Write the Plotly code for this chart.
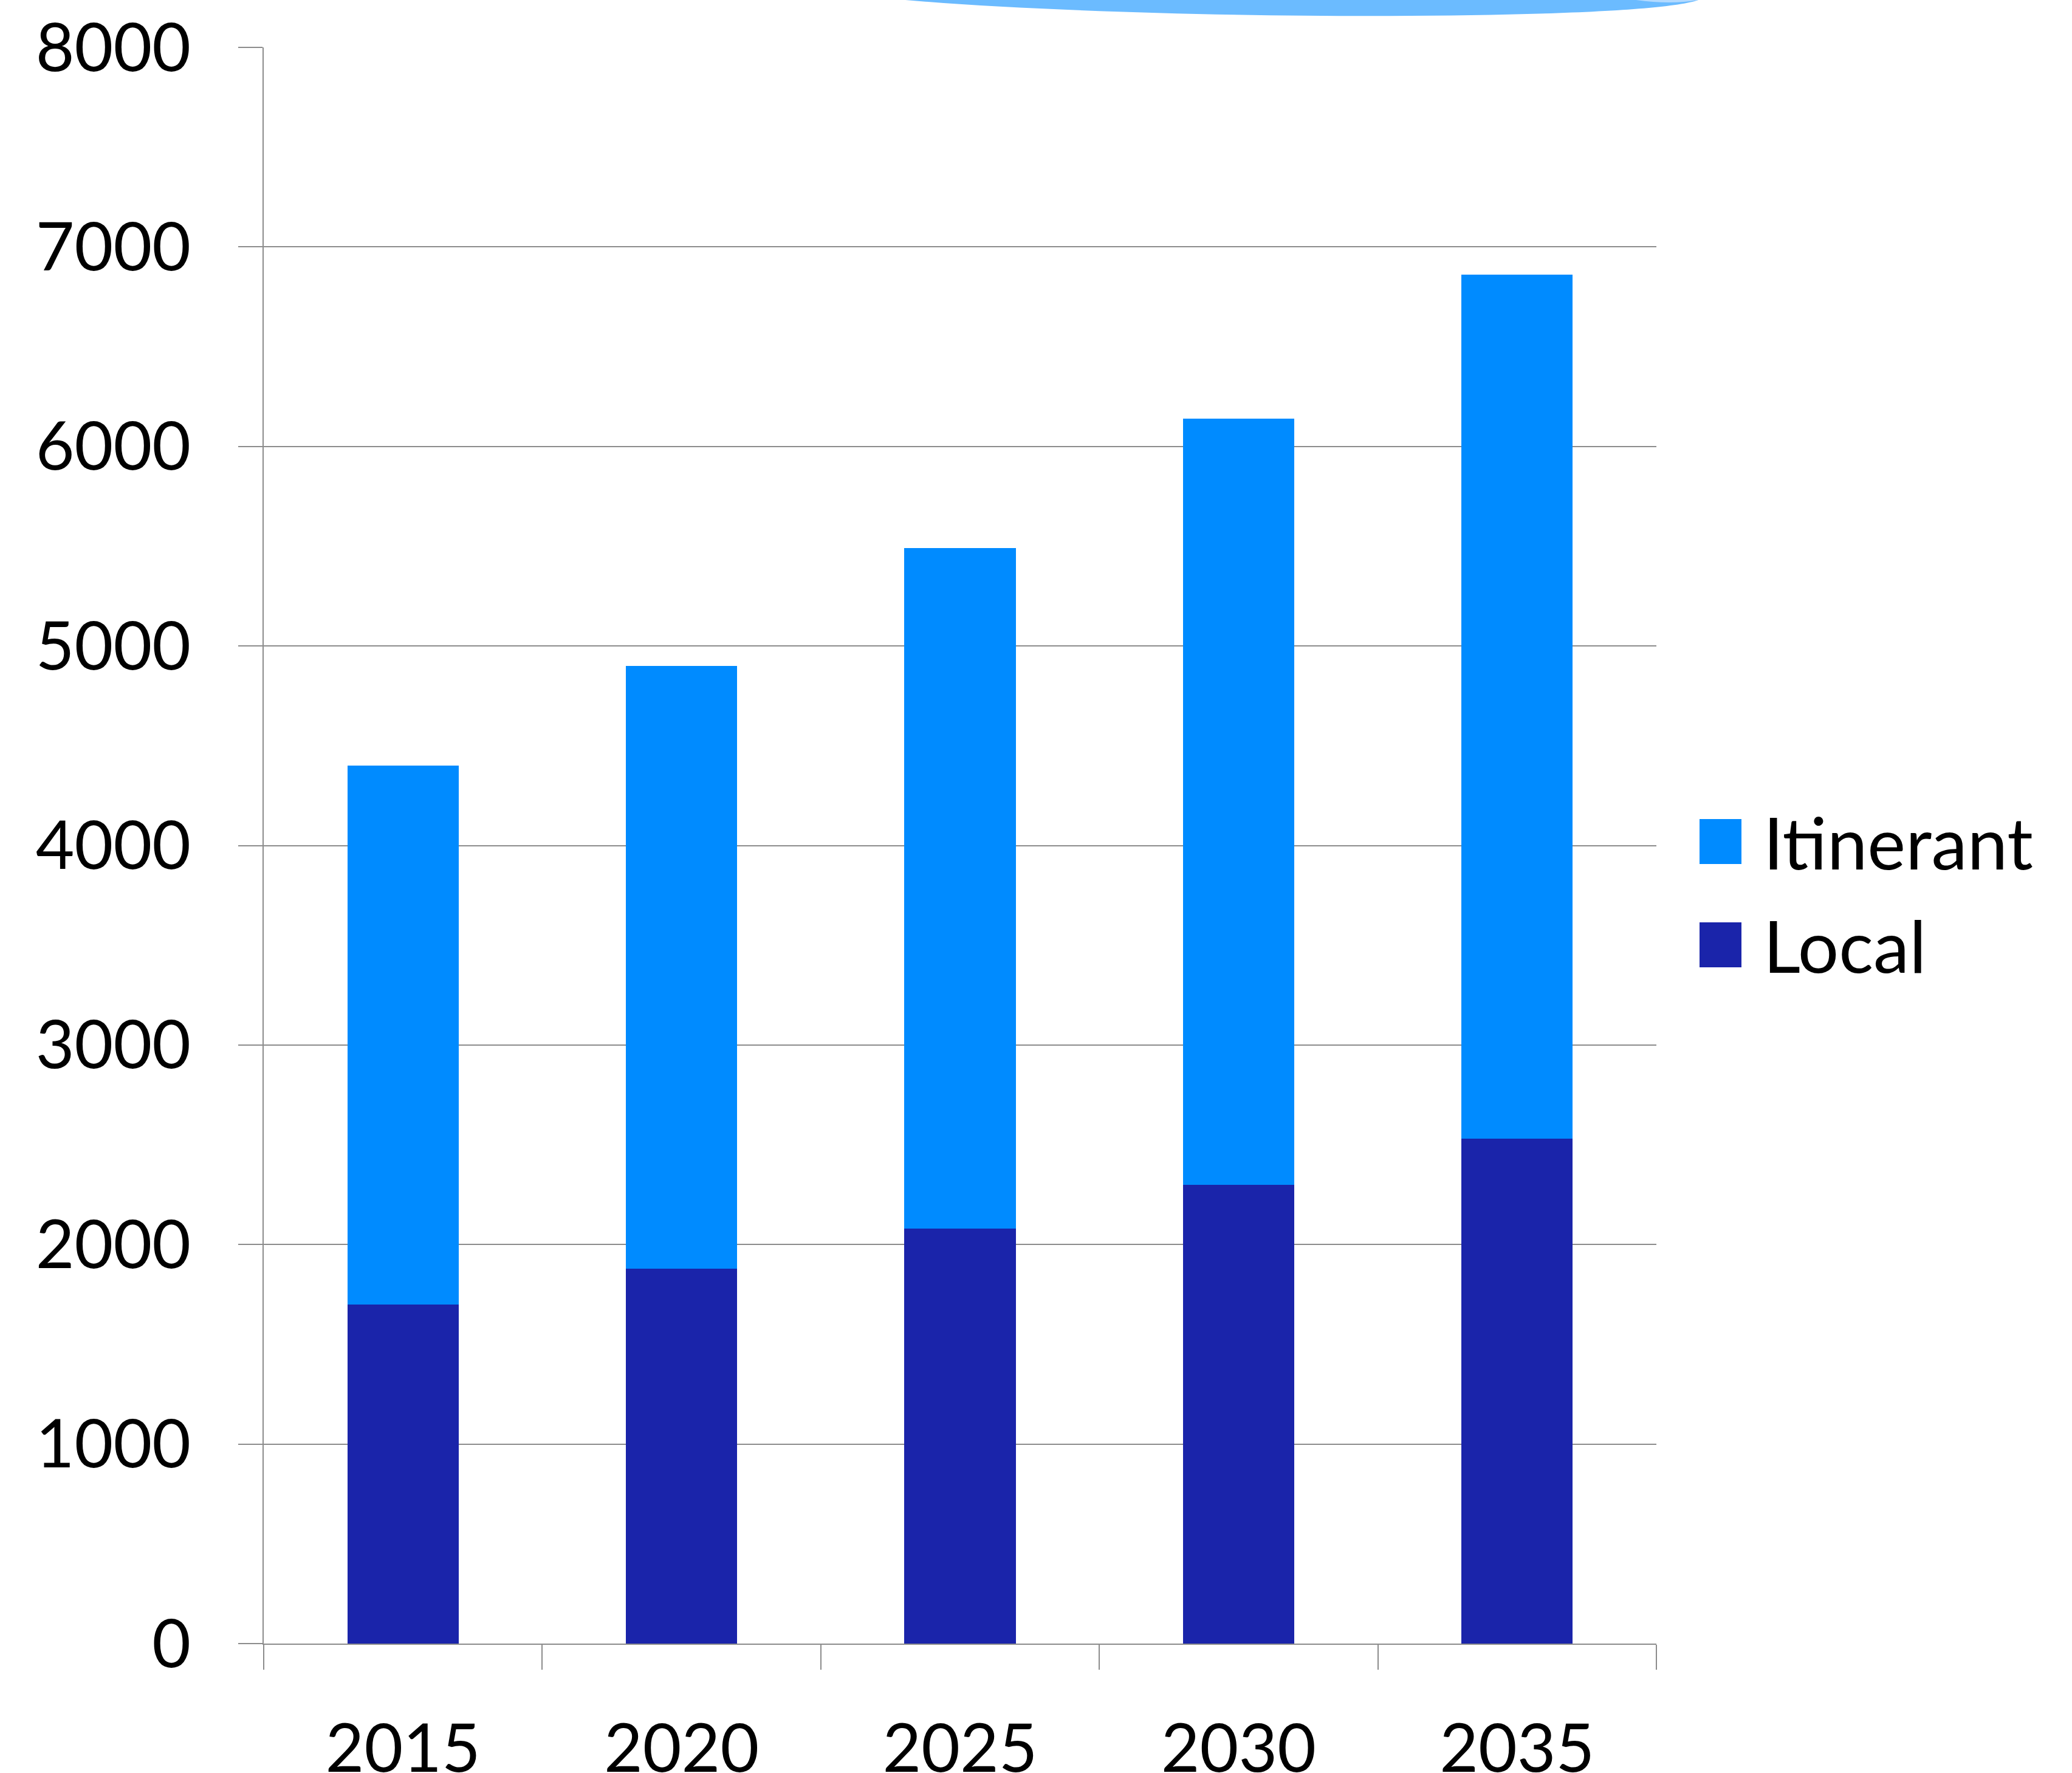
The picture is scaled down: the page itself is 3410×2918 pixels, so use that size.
import plotly.graph_objects as go

years = ["2015", "2020", "2025", "2030", "2035"]
local = [1700, 1880, 2080, 2300, 2530]
itinerant = [2700, 3020, 3410, 3840, 4330]
series_names = ["Itinerant", "Local"]
y_ticks = [0, 1000, 2000, 3000, 4000, 5000, 6000, 7000, 8000]

C_ITIN = "#008BFF"
C_LOCAL = "#1A24AA"
GRID = "#8C8C8C"
FONT = "Lato"
FS = 110
FS_LEG = 119

W, H = 3410, 2918
L, R, T, B = 434, 2726, 78, 2705

def px(x):
    return (x - L) / (R - L)

def py(y):
    return (B - y) / (B - T)

fig = go.Figure()
fig.add_trace(go.Bar(x=years, y=local, name="Local", marker=dict(color=C_LOCAL, line=dict(width=0))))
fig.add_trace(go.Bar(x=years, y=itinerant, name="Itinerant", marker=dict(color=C_ITIN, line=dict(width=0))))

shapes = []
# decorative arc at top
path = (f"M {px(1490)},{py(-60)} L {px(1490)},{py(0)} "
        f"C {px(1900)},{py(35)} {px(2700)},{py(35)} {px(2795)},{py(0)} "
        f"L {px(2795)},{py(-60)} Z")
shapes.append(dict(type="path", xref="paper", yref="paper", path=path,
                   fillcolor="#6BBBFF", line=dict(width=0), layer="above"))
# lighter sliver at the right end of the arc
path2 = (f"M {px(2640)},{py(-10)} C {px(2700)},{py(4)} {px(2750)},{py(8)} {px(2795)},{py(0)} "
         f"L {px(2795)},{py(-10)} Z")
shapes.append(dict(type="path", xref="paper", yref="paper", path=path2,
                   fillcolor="#B3DAFF", line=dict(width=0), layer="above"))

annotations = []
leg_colors = [C_ITIN, C_LOCAL]
leg_y = [1385, 1555]
for name, col, yc in zip(series_names, leg_colors, leg_y):
    shapes.append(dict(type="rect", xref="paper", yref="paper",
                       x0=px(2797), x1=px(2866), y0=py(yc - 37), y1=py(yc + 37),
                       fillcolor=col, line=dict(width=0)))
    annotations.append(dict(x=px(2900), y=py(yc), xref="paper", yref="paper",
                            text=name, showarrow=False, xanchor="left", yanchor="middle",
                            font=dict(family=FONT, size=FS_LEG, color="black")))

fig.update_layout(
    width=W, height=H,
    margin=dict(l=L, r=W - R, t=T, b=H - B, pad=0, autoexpand=False),
    barmode="stack", bargap=0.6,
    showlegend=False,
    plot_bgcolor="white", paper_bgcolor="white",
    font=dict(family=FONT, size=FS, color="black"),
    shapes=shapes, annotations=annotations,
)
fig.update_xaxes(
    type="category", tickson="boundaries", ticks="outside", ticklen=41, tickwidth=2,
    tickcolor=GRID, showline=True, linecolor=GRID, linewidth=2, showgrid=False,
    automargin=False,
    ticklabelstandoff=77, tickfont=dict(family=FONT, size=FS, color="black"),
)
fig.update_yaxes(
    range=[0, 8000], tickvals=y_ticks, ticks="outside", ticklen=40, tickwidth=2,
    tickcolor=GRID, showline=True, linecolor=GRID, linewidth=2,
    showgrid=True, gridcolor=GRID, gridwidth=2, zeroline=False,
    automargin=False,
    ticklabelstandoff=56, tickfont=dict(family=FONT, size=FS, color="black"),
)
fig.write_html("out.html")
